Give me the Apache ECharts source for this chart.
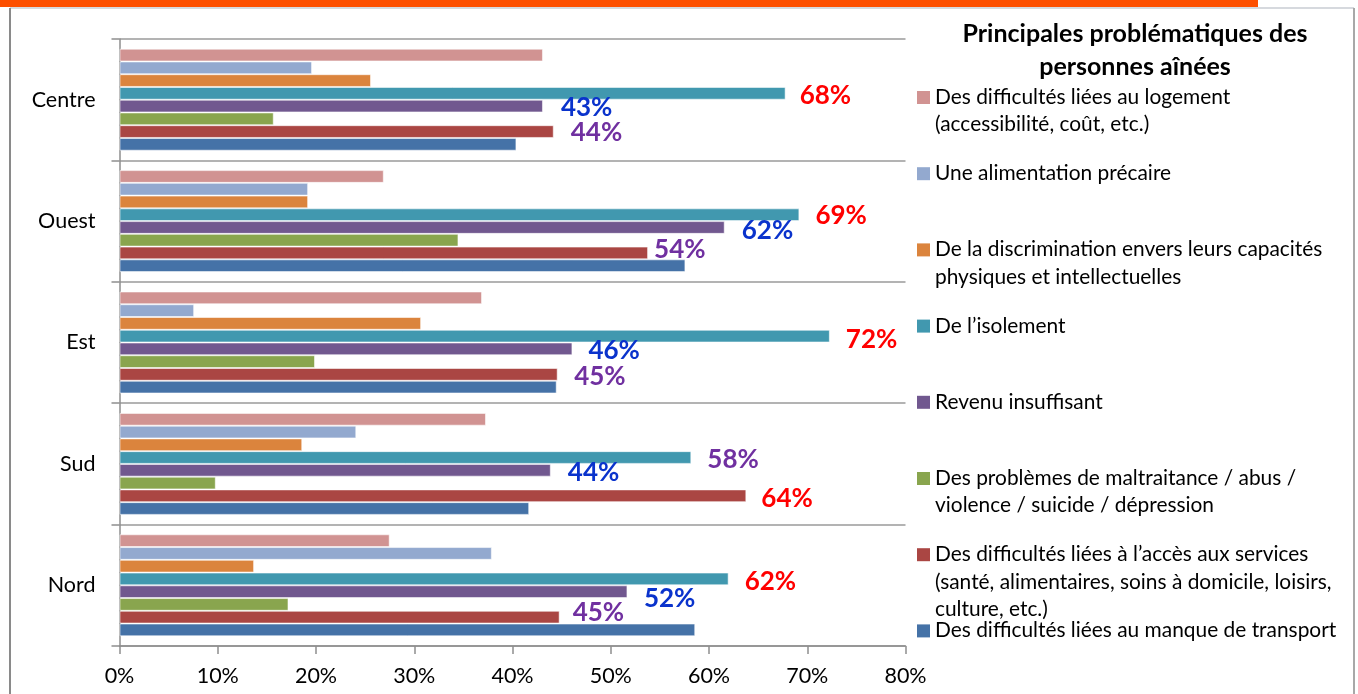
<!DOCTYPE html>
<html>
<head>
<meta charset="utf-8">
<script src="https://cdn.jsdelivr.net/npm/echarts@6/dist/echarts.min.js"></script>
<style>
html,body{margin:0;padding:0;background:#fff;}
#chart{width:1358px;height:694px;}
</style>
</head>
<body>
<div id="chart"></div>
<script>
// ---- data ----
const categories = ['Nord', 'Sud', 'Est', 'Ouest', 'Centre'];
const xTicks = [0, 10, 20, 30, 40, 50, 60, 70, 80];
const titleText = 'Principales problématiques des\npersonnes aînées';

// values per category, in the order of `categories`
const logement       = [27.5, 37.3, 36.9, 26.9, 43.1];
const alimentation   = [37.9, 24.1,  7.6, 19.2, 19.6];
const discrimination = [13.7, 18.6, 30.7, 19.2, 25.6];
const isolement      = [62.0, 58.2, 72.3, 69.2, 67.8];
const revenu         = [51.7, 43.9, 46.1, 61.6, 43.1];
const maltraitance   = [17.2,  9.8, 19.9, 34.5, 15.7];
const services       = [44.8, 63.8, 44.6, 53.8, 44.2];
const transport      = [58.6, 41.7, 44.5, 57.6, 40.4];

// series names (top bar to bottom bar within a group)
const seriesNames = [
  'Des difficultés liées au logement (accessibilité, coût, etc.)',
  'Une alimentation précaire',
  'De la discrimination envers leurs capacités physiques et intellectuelles',
  'De l’isolement',
  'Revenu insuffisant',
  'Des problèmes de maltraitance / abus / violence / suicide / dépression',
  'Des difficultés liées à l’accès aux services (santé, alimentaires, soins à domicile, loisirs, culture, etc.)',
  'Des difficultés liées au manque de transport'
];
const seriesValues = [logement, alimentation, discrimination, isolement, revenu, maltraitance, services, transport];

// legend text as displayed (with line breaks), same order as seriesNames
const legendLines = [
  'Des difficultés liées au logement\n(accessibilité, coût, etc.)',
  'Une alimentation précaire',
  'De la discrimination envers leurs capacités\nphysiques et intellectuelles',
  'De l’isolement',
  'Revenu insuffisant',
  'Des problèmes de maltraitance / abus /\nviolence / suicide / dépression',
  'Des difficultés liées à l’accès aux services\n(santé, alimentaires, soins à domicile, loisirs,\nculture, etc.)',
  'Des difficultés liées au manque de transport'
];

// which bars carry a value label: [category, series index, colour key]
const annotated = [
  ['Centre', 3, 'red'], ['Centre', 4, 'blue'], ['Centre', 6, 'purple'],
  ['Ouest', 3, 'red'],  ['Ouest', 4, 'blue'],  ['Ouest', 6, 'purple'],
  ['Est', 3, 'red'],    ['Est', 4, 'blue'],    ['Est', 6, 'purple'],
  ['Sud', 3, 'purple'], ['Sud', 4, 'blue'],    ['Sud', 6, 'red'],
  ['Nord', 3, 'red'],   ['Nord', 4, 'blue'],   ['Nord', 6, 'purple']
];

// ---- styles ----
const colors = ['#D19392', '#93A9CF', '#DB843D', '#4198AF', '#71588F', '#89A54E', '#AA4643', '#4572A7'];
const labelColors = { red: '#FF0000', blue: '#0A33CC', purple: '#7030A0' };
// fine placement nudges for the value labels [dx, dy], keyed "category|series"
const labelNudge = {
  'Centre|3': [-2, 2.5], 'Centre|4': [2, 2], 'Centre|6': [1, 1.5],
  'Ouest|3': [0, 1], 'Ouest|4': [1, 3.5], 'Ouest|6': [-10, -3],
  'Est|3': [0, 3], 'Est|4': [0, 2], 'Est|6': [0.5, 2],
  'Sud|3': [0, 2.5], 'Sud|4': [1, 2], 'Sud|6': [-1, 3],
  'Nord|3': [0, 2.5], 'Nord|4': [0.5, 7], 'Nord|6': [-3, -5]
};
const FONT = 'Lato, "Liberation Sans", sans-serif';
const AXIS_GREY = '#8E8E8E';

const series = seriesNames.map((name, si) => ({
  name: name,
  type: 'bar',
  barGap: '0%',
  barCategoryGap: '16%',
  itemStyle: { color: colors[si], borderColor: 'rgba(255,255,255,0.55)', borderWidth: 1 },
  emphasis: { disabled: true },
  data: seriesValues[si].map((v, ci) => {
    const a = annotated.find(x => x[0] === categories[ci] && x[1] === si);
    if (!a) return v;
    const n = labelNudge[a[0] + '|' + si] || [0, 2];
    return {
      value: v,
      label: {
        show: true,
        position: 'right',
        distance: 16,
        offset: n,
        formatter: p => Math.round(p.value) + '%',
        color: labelColors[a[2]],
        fontFamily: FONT,
        fontWeight: 'bold',
        fontSize: 26
      }
    };
  })
}));

// legend drawn as graphics (fixed 76px pitch like the original)
const legendGraphics = [];
seriesNames.forEach((name, k) => {
  const cy = 97.5 + 76.2 * k;
  legendGraphics.push({
    type: 'rect', shape: { x: 917, y: cy - 6.5, width: 13, height: 13 },
    style: { fill: colors[k] }, silent: true
  });
  legendGraphics.push({
    type: 'text', x: 935, y: cy - 14,
    style: { text: legendLines[k], font: '20.9px ' + FONT, fill: '#000', lineHeight: 27.5,
             textVerticalAlign: 'top', verticalAlign: 'top' },
    silent: true
  });
});

const option = {
  animation: false,
  backgroundColor: '#fff',
  textStyle: { fontFamily: FONT },
  grid: { left: 119.5, right: 452.5, top: 39, bottom: 48, containLabel: false },
  xAxis: {
    type: 'value', min: 0, max: 80, interval: 10,
    axisLine: { show: true, lineStyle: { color: AXIS_GREY, width: 1.5 } },
    axisTick: { show: true, length: 8, lineStyle: { color: AXIS_GREY, width: 1.5 } },
    splitLine: { show: false },
    axisLabel: { formatter: v => xTicks.includes(v) ? v + '%' : '', color: '#000', fontSize: 21.5, fontFamily: FONT, margin: 19 }
  },
  yAxis: {
    type: 'category', data: categories,
    axisLine: { show: true, lineStyle: { color: AXIS_GREY, width: 1.5 } },
    axisTick: { show: true, length: 8, lineStyle: { color: AXIS_GREY, width: 1.5 } },
    splitLine: { show: true, lineStyle: { color: '#9A9A9A', width: 1.5 } },
    axisLabel: { color: '#000', fontSize: 21.5, fontFamily: FONT, margin: 24 }
  },
  series: series,
  graphic: [
    { type: 'rect', shape: { x: 0, y: 0, width: 1258, height: 7 }, style: { fill: '#FD4F00' }, silent: true },
    { type: 'line', shape: { x1: 10, y1: 8, x2: 1354, y2: 8 }, style: { stroke: '#C9CDD3', lineWidth: 1.5 }, silent: true },
    { type: 'line', shape: { x1: 10, y1: 8, x2: 10, y2: 694 }, style: { stroke: '#8A8A8A', lineWidth: 2 }, silent: true },
    { type: 'line', shape: { x1: 1354, y1: 8, x2: 1354, y2: 694 }, style: { stroke: '#A8A8A8', lineWidth: 2 }, silent: true },
    { type: 'text', x: 1135, y: 17.5,
      style: { text: titleText, font: 'bold 25px ' + FONT, fill: '#000', lineHeight: 33,
               textAlign: 'center', align: 'center', textVerticalAlign: 'top', verticalAlign: 'top' }, silent: true }
  ].concat(legendGraphics)
};

const chart = echarts.init(document.getElementById('chart'), null, { renderer: 'canvas' });
chart.setOption(option);
</script>
</body>
</html>
